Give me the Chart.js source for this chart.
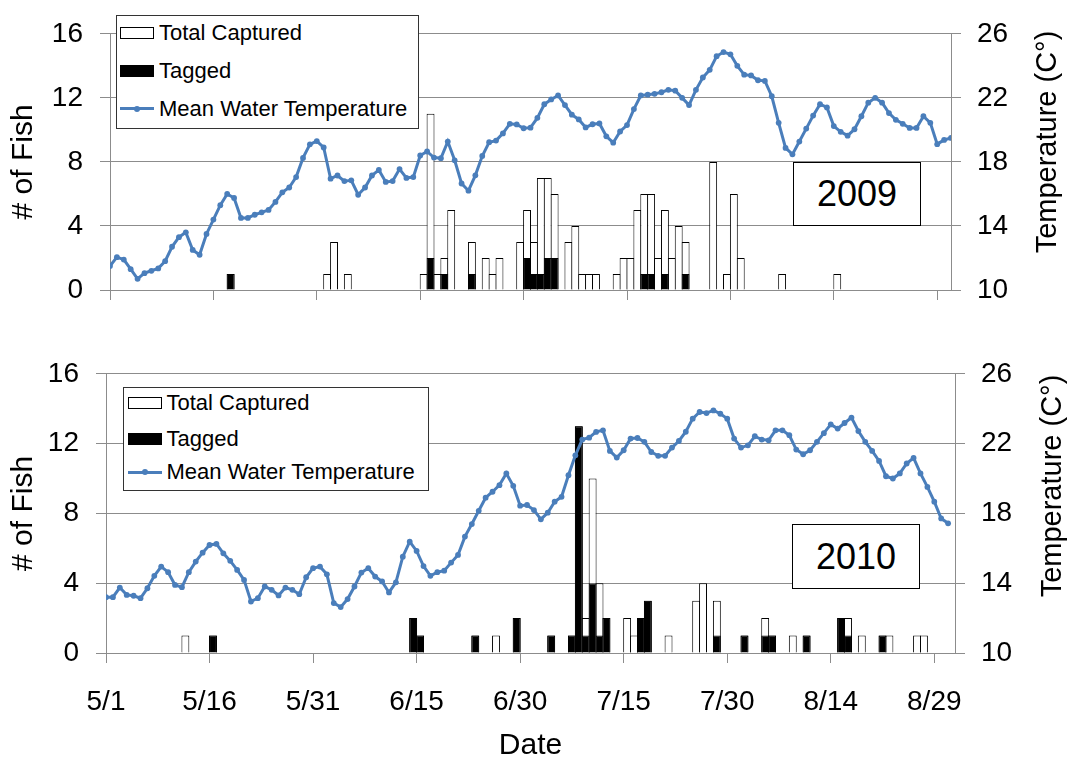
<!DOCTYPE html>
<html>
<head>
<meta charset="utf-8">
<title>Fish captured / tagged and mean water temperature, 2009 and 2010</title>
<script src="https://cdn.jsdelivr.net/npm/chart.js@4.4.1/dist/chart.umd.min.js"></script>
<style>
  html, body { margin: 0; padding: 0; background: #fff; }
  body { width: 1069px; height: 762px; position: relative; overflow: hidden;
         font-family: 'Liberation Sans', Arial, sans-serif; color: #000; }
  canvas { position: absolute; left: 0; }
  #chart2009 { top: 0; }
  #chart2010 { top: 340px; }

  .legend { position: absolute; box-sizing: border-box; background: #fff; border: 1.5px solid #333; }
  .legend .entry { position: absolute; left: 0; height: 24px; margin-top: -12px; width: 100%; }
  .legend .sw { position: absolute; top: 6px; width: 34px; height: 12px; box-sizing: border-box; }
  .legend .lbl { position: absolute; top: 0; font-size: 22px; line-height: 24px; white-space: nowrap; }
  .sw-total { background: #fff; border: 1px solid #000; }
  .sw-tagged { background: #000; }
  .sw-line::before { content: ''; position: absolute; left: 0; top: 4.5px; width: 34px; height: 3px; background: #4a7ebb; }
  .sw-line::after { content: ''; position: absolute; left: 14px; top: 3px; width: 6px; height: 6px; border-radius: 50%; background: #4a7ebb; }

  .year { position: absolute; box-sizing: border-box; background: #fff; border: 1.5px solid #000;
          font-size: 36px; display: flex; align-items: center; justify-content: center; }
  .temp-title { position: absolute; font-size: 29px; line-height: 1; white-space: nowrap;
                transform: translate(-50%, -50%) rotate(-90deg); }
</style>
</head>
<body>
<canvas id="chart2009" width="1069" height="330"></canvas>
<canvas id="chart2010" width="1069" height="422"></canvas>

<div class="legend" style="left:116px; top:15px; width:303px; height:114px;">
  <div class="entry" style="top:16.5px"><span class="sw sw-total" style="left:3px"></span><span class="lbl" style="left:42px">Total Captured</span></div>
  <div class="entry" style="top:55px"><span class="sw sw-tagged" style="left:3px"></span><span class="lbl" style="left:42px">Tagged</span></div>
  <div class="entry" style="top:92.5px"><span class="sw sw-line" style="left:3px"></span><span class="lbl" style="left:42px">Mean Water Temperature</span></div>
</div>
<div class="legend" style="left:123px; top:387px; width:306px; height:104px;">
  <div class="entry" style="top:14.5px"><span class="sw sw-total" style="left:4px"></span><span class="lbl" style="left:42.5px">Total Captured</span></div>
  <div class="entry" style="top:51px"><span class="sw sw-tagged" style="left:4px"></span><span class="lbl" style="left:42.5px">Tagged</span></div>
  <div class="entry" style="top:84px"><span class="sw sw-line" style="left:4px"></span><span class="lbl" style="left:42.5px">Mean Water Temperature</span></div>
</div>

<div class="year" style="left:793px; top:162px; width:128px; height:64px;">2009</div>
<div class="year" style="left:792px; top:524px; width:128px; height:65px;">2010</div>

<div class="temp-title" style="left:1046px; top:142px;">Temperature (C°)</div>
<div class="temp-title" style="left:1051px; top:486px;">Temperature (C°)</div>

<script>
// axis ticks
const xTickLabels = ['5/1', '5/16', '5/31', '6/15', '6/30', '7/15', '7/30', '8/14', '8/29'];
const countTicks = [0, 4, 8, 12, 16];
const tempTicks = [10, 14, 18, 22, 26];

// daily mean water temperature (C), one value per day starting 5/1
const temp2009 = [
  11.5, 12.05, 11.9, 11.3, 10.7, 11.05, 11.2, 11.35, 11.8, 12.7,
  13.3, 13.6, 12.5, 12.2, 13.5, 14.4, 15.3, 16.0, 15.75, 14.5,
  14.5, 14.7, 14.85, 15.0, 15.5, 16.1, 16.4, 17.05, 18.25, 19.1,
  19.3, 18.9, 16.95, 17.15, 16.8, 16.85, 15.95, 16.4, 17.15, 17.5,
  16.75, 16.8, 17.55, 17.0, 17.05, 18.4, 18.65, 18.27, 18.23, 19.27,
  18.1, 16.65, 16.2, 17.16, 18.37, 19.23, 19.33, 19.78, 20.38, 20.34,
  20.1, 20.14, 20.75, 21.6, 21.9, 22.15, 21.55, 20.95, 20.65, 20.15,
  20.35, 20.4, 19.6, 19.2, 19.9, 20.3, 21.3, 22.15, 22.2, 22.25,
  22.35, 22.5, 22.45, 22.0, 21.55, 22.5, 23.27, 23.75, 24.6, 24.86,
  24.72, 24.0, 23.45, 23.4, 23.1, 23.06, 22.1, 20.44, 18.87, 18.47,
  19.27, 20.08, 20.89, 21.6, 21.4, 20.24, 19.88, 19.64, 20.04, 20.85,
  21.7, 22.0, 21.7, 21.05, 20.63, 20.38, 20.12, 20.12, 20.85, 20.44,
  19.11, 19.37, 19.5
];
const temp2010 = [
  13.2, 13.2, 13.75, 13.33, 13.28, 13.14, 13.71, 14.42, 14.95, 14.63,
  13.9, 13.77, 14.63, 15.24, 15.75, 16.19, 16.25, 15.71, 15.28, 14.76,
  14.19, 12.95, 13.14, 13.81, 13.62, 13.3, 13.75, 13.62, 13.37, 14.34,
  14.86, 14.95, 14.51, 12.86, 12.63, 13.09, 13.81, 14.61, 14.86, 14.38,
  14.1, 13.47, 14.05, 15.52, 16.38, 15.85, 14.98, 14.42, 14.63, 14.72,
  15.18, 15.62, 16.67, 17.39, 18.15, 18.9, 19.24, 19.62, 20.29, 19.58,
  18.44, 18.48, 18.19, 17.66, 18.04, 18.67, 18.95, 20.19, 21.33, 22.23,
  22.34, 22.67, 22.76, 21.58, 21.2, 21.62, 22.29, 22.32, 22.1, 21.52,
  21.3, 21.3, 21.77, 22.15, 22.68, 23.43, 23.81, 23.75, 23.9, 23.71,
  23.43, 22.29, 21.77, 21.9, 22.42, 22.23, 22.19, 22.76, 22.76, 22.48,
  21.66, 21.39, 21.62, 22.1, 22.6, 23.1, 22.86, 23.18, 23.49, 22.72,
  22.1, 21.58, 21.01, 20.13, 20.0, 20.29, 20.86, 21.18, 20.29, 19.52,
  18.67, 17.71, 17.43
];

// capture days, fish captured and fish tagged
const captureDates2009 = ['5/18', '6/1', '6/2', '6/4', '6/15', '6/16', '6/17', '6/18', '6/19', '6/22',
  '6/24', '6/25', '6/26', '6/29', '6/30', '7/1', '7/2', '7/3', '7/4', '7/6',
  '7/7', '7/8', '7/9', '7/10', '7/13', '7/14', '7/15', '7/16', '7/17', '7/18',
  '7/19', '7/20', '7/21', '7/22', '7/23', '7/27', '7/29', '7/30', '7/31', '8/6', '8/14'];
const totalCaptured2009 = [1, 1, 3, 1, 1, 11, 1, 2, 5, 3,
  2, 1, 2, 3, 5, 3, 7, 7, 6, 3,
  4, 1, 1, 1, 1, 2, 2, 5, 6, 6,
  2, 5, 2, 4, 3, 8, 1, 6, 2, 1, 1];
const tagged2009 = [1, 0, 0, 0, 0, 2, 0, 1, 0, 1,
  0, 0, 0, 0, 2, 1, 1, 2, 2, 0,
  0, 0, 0, 0, 0, 0, 0, 0, 1, 1,
  0, 1, 0, 0, 1, 0, 0, 0, 0, 0, 0];

const captureDates2010 = ['5/12', '5/16', '6/14', '6/15', '6/23', '6/26', '6/29', '7/4', '7/7', '7/8',
  '7/9', '7/10', '7/11', '7/12', '7/15', '7/16', '7/17', '7/18', '7/21', '7/25',
  '7/26', '7/28', '8/1', '8/4', '8/5', '8/8', '8/10', '8/15', '8/16', '8/18',
  '8/21', '8/22', '8/26', '8/27'];
const totalCaptured2010 = [1, 1, 2, 1, 1, 1, 2, 1, 1, 13,
  2, 10, 4, 2, 2, 1, 2, 3, 1, 3,
  4, 3, 1, 2, 1, 1, 1, 2, 2, 1,
  1, 1, 1, 1];
const tagged2010 = [0, 1, 2, 1, 1, 0, 2, 1, 1, 13,
  1, 4, 1, 2, 0, 0, 2, 3, 0, 0,
  0, 1, 1, 1, 1, 0, 1, 2, 1, 0,
  1, 0, 0, 0];

const BLUE = '#4a7ebb';
const GRID = '#8c8c8c';
const FONT = "'Liberation Sans', Arial, sans-serif";

// days since 5/1
const monthStart = { 5: 0, 6: 31, 7: 61, 8: 92, 9: 123 };
function dayIndex(md) {
  const [m, d] = md.split('/').map(Number);
  return monthStart[m] + d - 1;
}
function dayLabel(i) {
  let m = 5;
  while (monthStart[m + 1] !== undefined && i >= monthStart[m + 1]) m++;
  return m + '/' + (i - monthStart[m] + 1);
}
function dailySeries(dates, counts, nDays) {
  const out = new Array(nDays).fill(null);
  dates.forEach((md, k) => { if (counts[k] > 0) out[dayIndex(md)] = counts[k]; });
  return out;
}

Chart.defaults.font.family = FONT;
Chart.defaults.color = '#000';

function buildChart(id, cfg) {
  const nDays = cfg.nDays;
  const tickDays = xTickLabels.map(dayIndex);
  const barStyle = {
    xAxisID: 'xDay', yAxisID: 'y', grouped: false,
    barPercentage: 1.145, categoryPercentage: 1, borderWidth: 1, borderColor: '#000'
  };

  return new Chart(document.getElementById(id), {
    type: 'bar',
    data: {
      labels: Array.from({ length: nDays }, (_, i) => dayLabel(i)),
      datasets: [
        {
          type: 'line',
          label: 'Mean Water Temperature',
          data: cfg.temps.map((t, i) => ({ x: i, y: t })),
          xAxisID: 'x', yAxisID: 'yTemp',
          borderColor: BLUE, backgroundColor: BLUE,
          borderWidth: 3, pointRadius: 2.9, pointBorderWidth: 0,
          tension: 0, order: 0
        },
        Object.assign({
          label: 'Tagged',
          data: dailySeries(cfg.dates, cfg.tagged, nDays),
          backgroundColor: '#000', order: 1
        }, barStyle),
        Object.assign({
          label: 'Total Captured',
          data: dailySeries(cfg.dates, cfg.totals, nDays),
          backgroundColor: '#fff', order: 2
        }, barStyle)
      ]
    },
    options: {
      responsive: false,
      animation: false,
      devicePixelRatio: 1,
      layout: { padding: { top: cfg.padTop, left: 0, right: 0, bottom: 0 } },
      plugins: { legend: { display: false }, tooltip: { enabled: false } },
      scales: {
        x: {
          type: 'linear', position: 'bottom', min: 0, max: nDays, offset: false,
          afterBuildTicks: s => { s.ticks = tickDays.map(v => ({ value: v })); },
          afterFit: s => { s.height = cfg.xHeight; },
          grid: { offset: false, drawOnChartArea: false, tickLength: 10, color: GRID },
          border: { display: true, color: GRID },
          ticks: {
            display: cfg.showDates, autoSkip: false, maxRotation: 0, padding: 22,
            font: { size: 28 }, color: '#000',
            callback: (v, i) => xTickLabels[i]
          },
          title: {
            display: cfg.showDates, text: 'Date', color: '#000',
            font: { size: 30, lineHeight: 1 }, padding: { top: 0, bottom: 1 }
          }
        },
        xDay: { type: 'category', display: false, offset: true },
        y: {
          position: 'left', min: 0, max: 16,
          afterBuildTicks: s => { s.ticks = countTicks.map(v => ({ value: v })); },
          afterFit: s => { s.width = cfg.leftWidth; },
          grid: { color: GRID, tickLength: 10 },
          border: { display: true, color: GRID },
          ticks: { font: { size: 28 }, color: '#000', padding: 17 },
          title: {
            display: true, text: '# of Fish', color: '#000',
            font: { size: 30 }, padding: { top: 6, bottom: 0 }
          }
        },
        yTemp: {
          position: 'right', min: 10, max: 26,
          afterBuildTicks: s => { s.ticks = tempTicks.map(v => ({ value: v })); },
          afterFit: s => { s.width = cfg.rightWidth; },
          grid: { drawOnChartArea: false, color: GRID, tickLength: 10 },
          border: { display: true, color: GRID },
          ticks: { font: { size: 28 }, color: '#000', padding: 16 }
        }
      }
    }
  });
}

buildChart('chart2009', {
  nDays: 122, temps: temp2009,
  dates: captureDates2009, totals: totalCaptured2009, tagged: tagged2009,
  padTop: 25, xHeight: 40, leftWidth: 110, rightWidth: 118, showDates: false
});

buildChart('chart2010', {
  nDays: 123, temps: temp2010,
  dates: captureDates2010, totals: totalCaptured2010, tagged: tagged2010,
  padTop: 33, xHeight: 109, leftWidth: 106, rightWidth: 114, showDates: true
});
</script>
</body>
</html>
